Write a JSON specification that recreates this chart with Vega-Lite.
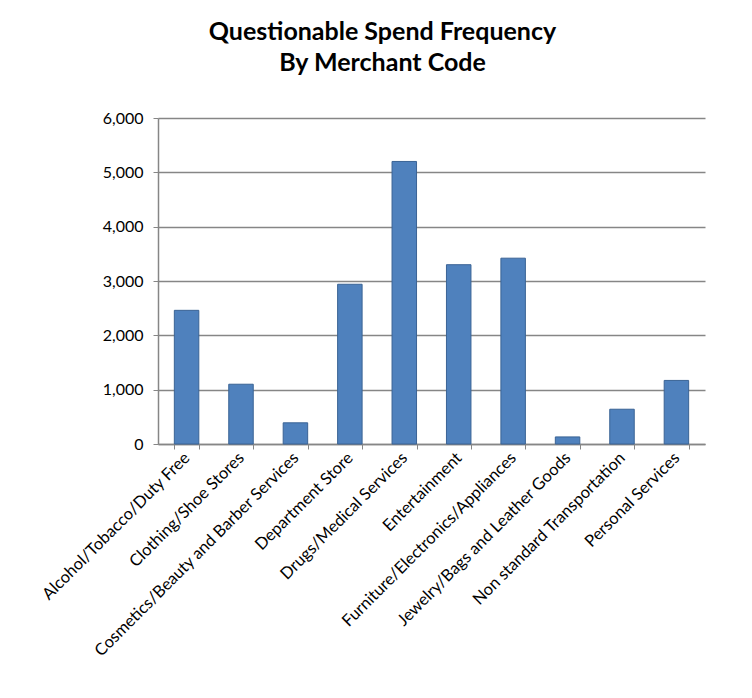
{
  "$schema": "https://vega.github.io/schema/vega-lite/v6.json",
  "autosize": {"type": "none"},
  "width": 547,
  "height": 326,
  "padding": {"left": 158, "top": 118, "right": 47, "bottom": 254},
  "background": "white",
  "title": {
    "text": ["Questionable Spend Frequency", "By Merchant Code"],
    "font": "Lato",
    "fontSize": 25,
    "fontWeight": "bold",
    "color": "#000000",
    "anchor": "middle",
    "dx": -49,
    "offset": 34,
    "lineHeight": 31
  },
  "data": {
    "values": [
      {"code": "Alcohol/Tobacco/Duty Free", "count": 2460},
      {"code": "Clothing/Shoe Stores", "count": 1100},
      {"code": "Cosmetics/Beauty and Barber Services", "count": 390},
      {"code": "Department Store", "count": 2940},
      {"code": "Drugs/Medical Services", "count": 5200},
      {"code": "Entertainment", "count": 3300},
      {"code": "Furniture/Electronics/Appliances", "count": 3420},
      {"code": "Jewelry/Bags and Leather Goods", "count": 130},
      {"code": "Non standard Transportation", "count": 640},
      {"code": "Personal Services", "count": 1170}
    ]
  },
  "mark": {"type": "bar", "color": "#4F81BD", "stroke": "#3A6395", "strokeWidth": 1},
  "encoding": {
    "x": {
      "field": "code",
      "type": "nominal",
      "sort": null,
      "title": null,
      "scale": {"paddingInner": 0.55, "paddingOuter": 0.3},
      "axis": {
        "labelAngle": -45,
        "labelAlign": "right",
        "labelBaseline": "middle",
        "labelFont": "Lato",
        "labelFontSize": 16.5,
        "labelColor": "#000000",
        "labelPadding": 6,
        "labelLimit": 400,
        "tickBand": "extent",
        "tickColor": "#868686",
        "tickSize": 5,
        "domainColor": "#868686",
        "domainWidth": 1.5
      }
    },
    "y": {
      "field": "count",
      "type": "quantitative",
      "title": null,
      "scale": {"domain": [0, 6000]},
      "axis": {
        "values": [0, 1000, 2000, 3000, 4000, 5000, 6000],
        "format": ",.0f",
        "labelFont": "Lato",
        "labelFontSize": 16,
        "labelColor": "#000000",
        "labelPadding": 10,
        "tickColor": "#868686",
        "tickSize": 5,
        "domainColor": "#868686",
        "domainWidth": 1.5,
        "gridColor": "#868686",
        "gridWidth": 1.5
      }
    }
  },
  "config": {"view": {"stroke": null}}
}
